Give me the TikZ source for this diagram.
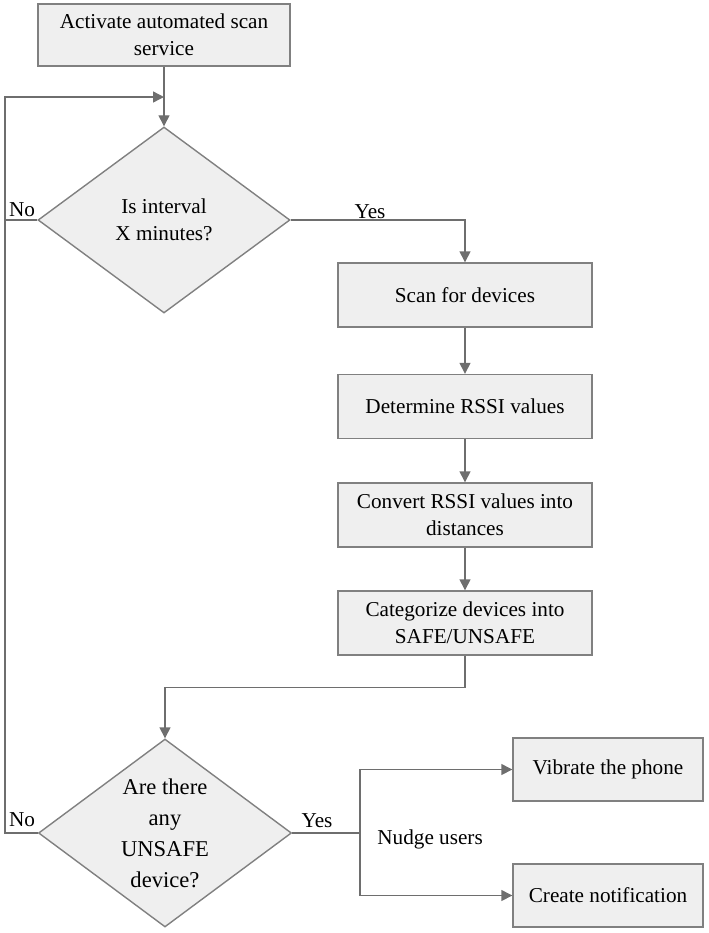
\documentclass[tikz,border=0pt]{standalone}
\usepackage{fontspec}
\setmainfont{Liberation Serif}
\usepackage{xcolor}
\usetikzlibrary{shapes.geometric, arrows.meta, positioning}
\definecolor{boxgray}{RGB}{239,239,239}
\definecolor{edgegray}{RGB}{128,128,128}
\definecolor{linegray}{RGB}{110,110,110}

\begin{document}
\begin{tikzpicture}[
    x=0.5pt, y=-0.5pt,
    font=\fontsize{10.6}{13.5}\selectfont,
    process/.style={rectangle, draw=edgegray, fill=boxgray, line width=0.7pt, minimum width=127pt, minimum height=32pt, align=center, inner sep=2pt},
    smallbox/.style={process, minimum width=95pt, minimum height=31.5pt},
    decision/.style={diamond, draw=edgegray, fill=boxgray, line width=0.7pt, align=center, inner sep=0pt},
    arrow/.style={-{Triangle[length=5.5pt, width=5.5pt]}, linegray, line width=0.7pt},
    line/.style={linegray, line width=0.7pt},
    tag/.style={inner sep=1pt},
]
\useasboundingbox (0,0) rectangle (708,933);

% start and first check
\node[process, minimum width=126pt, minimum height=31pt] (start) at (164,35) {Activate automated scan\\service};
\node[decision, minimum width=126pt, minimum height=93pt] (interval) at (164,220) {Is interval\\X minutes?};

% scanning column
\node[process] (scan) at (465,295) {Scan for devices};
\node[process] (rssi) at (465,406.5) {Determine RSSI values};
\node[process] (convert) at (465,515) {Convert RSSI values into\\distances};
\node[process] (categorize) at (465,623) {Categorize devices into\\SAFE/UNSAFE};

% second check and nudges
\node[decision, inner sep=-6pt, minimum width=126.5pt, minimum height=94pt, font=\fontsize{11.3}{15.5}\selectfont] (unsafe) at (165,833) {Are there\\any\\UNSAFE\\device?};
\node[smallbox] (vibrate) at (608,769.5) {Vibrate the phone};
\node[smallbox] (notify) at (608,895.5) {Create notification};

\coordinate (join) at (164,97);
\coordinate (loop) at (5,97);
\coordinate (split) at (360,833);

\draw[arrow] (start) -- (interval);
\draw[arrow] (interval.east) -| (scan.north);
\draw[arrow] (scan) -- (rssi);
\draw[arrow] (rssi) -- (convert);
\draw[arrow] (convert) -- (categorize);
\draw[arrow] (categorize.south) -- ++(0,32) -| (unsafe.north);

% no: back to the interval check
\draw[arrow] (unsafe.west) -| (loop) -- (join);
\draw[line] (interval.west) -- (interval.west -| loop);

% yes: nudge users
\draw[line] (unsafe.east) -- (split);
\draw[arrow] (split) |- (vibrate.west);
\draw[arrow] (split) |- (notify.west);

\node[tag] (no1) at (22,210) {No};
\node[tag] (yes1) at (370,212) {Yes};
\node[tag] (no2) at (22,820) {No};
\node[tag] (yes2) at (317,821) {Yes};
\node[tag, anchor=west] (nudge) at (375,839) {Nudge users};

\end{tikzpicture}
\end{document}
